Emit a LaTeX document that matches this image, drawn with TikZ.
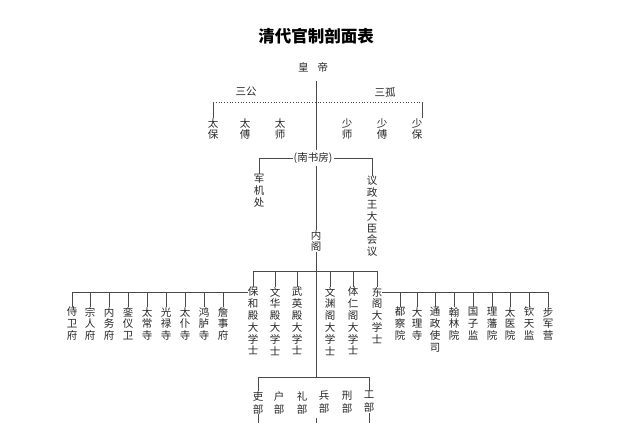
\documentclass[tikz,border=0pt]{standalone}
\usepackage{fontspec}
\newfontfamily\cjk{Noto Sans CJK SC}
\definecolor{ink}{HTML}{262626}
\definecolor{wire}{HTML}{4A4A4A}
\tikzset{
  vt/.style={font=\cjk\fontsize{10.5}{11.8}\selectfont, align=center, inner sep=0pt, anchor=north, text=ink},
  vtm/.style={vt, font=\cjk\fontsize{10.5}{13}\selectfont},
  ht/.style={font=\cjk\fontsize{10.5}{12}\selectfont, inner sep=1pt, text=ink},
  wire/.style={draw=wire, line width=0.75pt},
}
\begin{document}
\begin{tikzpicture}[x=1pt,y=-1pt]
\useasboundingbox (0,0) rectangle (640,423);
\fill[white] (0,0) rectangle (640,423);
% title
\node[font=\cjk\bfseries\fontsize{16.5}{18}\selectfont, text=black, inner sep=0pt] (title) at (316,36) {清代官制剖面表};
% emperor
\node[ht] (hd) at (313,67) {皇\hspace{9pt}帝};
\node[ht] (sangong) at (246,92) {三公};
\node[ht] (sangu) at (385,92) {三孤};
\coordinate (c0) at (316,81);
\coordinate (dl) at (213,102);
\coordinate (dr) at (422,102);
\coordinate (dc) at (316,102);
\draw[wire, dotted] (dl) -- (dr);
% six
\node[vt] (taibao) at (213,118) {太\\保};
\node[vt] (taifu) at (245,118) {太\\傅};
\node[vt] (taishi) at (280,118) {太\\师};
\node[vt] (shaoshi) at (347,118) {少\\师};
\node[vt] (shaofu) at (382,118) {少\\傅};
\node[vt] (shaobao) at (417,118) {少\\保};
\draw[wire] (dl) -- (taibao.north);
\draw[wire] (dr) -- (dr |- shaobao.north);
% south study
\node[ht] (nsf) at (313,158) {(南书房)};
\coordinate (c1) at (316,150);
\draw[wire] (c0) -- (c1);
\coordinate (nl) at (259,158);
\coordinate (nr) at (372,158);
\node[vt] (jjc) at (259,174) {军\\机\\处};
\node[vt] (yzw) at (372,176) {议\\政\\王\\大\\臣\\会\\议};
\draw[wire] (nsf.west) -- (nl) -- (jjc.north);
\draw[wire] (nsf.east) -- (nr) -- (yzw.north);
% grand secretariat
\node[vt] (neige) at (316,230) {内\\阁};
\coordinate (c2) at (316,166);
\draw[wire] (c2) -- (neige.north);
\coordinate (bar1) at (316,271);
\coordinate (bar1l) at (253,271);
\coordinate (bar1r) at (377,271);
\draw[wire] (neige.south) -- (bar1);
\draw[wire] (bar1l) -- (bar1r);
\node[vt] (bh) at (253,287) {保\\和\\殿\\大\\学\\士};
\node[vt] (wh) at (275,287) {文\\华\\殿\\大\\学\\士};
\node[vt] (wy) at (297,287) {武\\英\\殿\\大\\学\\士};
\node[vt] (wyg) at (330,287) {文\\渊\\阁\\大\\学\\士};
\node[vt] (tr) at (353,287) {体\\仁\\阁\\大\\学\\士};
\node[vt] (dg) at (377,287) {东\\阁\\大\\学\\士};
\foreach \n in {bh,wh,wy,wyg,tr,dg} \draw[wire] (\n.north |- bar1) -- (\n.north);
% left offices
\coordinate (lb) at (72,292);
\coordinate (rb) at (548,292);
\draw[wire] (lb) -- (lb -| bh.west);
\draw[wire] (rb) -- (rb -| dg.east);
\node[vt] (l1) at (72,307) {侍\\卫\\府};
\node[vt] (l2) at (90,307) {宗\\人\\府};
\node[vt] (l3) at (109,307) {内\\务\\府};
\node[vt] (l4) at (128,307) {銮\\仪\\卫};
\node[vt] (l5) at (147,307) {太\\常\\寺};
\node[vt] (l6) at (166,307) {光\\禄\\寺};
\node[vt] (l7) at (185,307) {太\\仆\\寺};
\node[vt] (l8) at (204,307) {鸿\\胪\\寺};
\node[vt] (l9) at (223,307) {詹\\事\\府};
\foreach \n in {l1,l2,l3,l4,l5,l6,l7,l8,l9} \draw[wire] (\n.north |- lb) -- (\n.north);
% right offices
\node[vt] (r1) at (400,307) {都\\察\\院};
\node[vt] (r2) at (417,307) {大\\理\\寺};
\node[vt] (r3) at (435,307) {通\\政\\使\\司};
\node[vt] (r4) at (454,307) {翰\\林\\院};
\node[vt] (r5) at (473,307) {国\\子\\监};
\node[vt] (r6) at (492,307) {理\\藩\\院};
\node[vt] (r7) at (510,307) {太\\医\\院};
\node[vt] (r8) at (529,307) {钦\\天\\监};
\node[vt] (r9) at (548,307) {步\\军\\营};
\foreach \n in {r1,r2,r3,r4,r5,r6,r7,r8,r9} \draw[wire] (\n.north |- rb) -- (\n.north);
% six ministries
\coordinate (bar2) at (316,377);
\draw[wire] (bar1) -- (bar2);
\node[vtm] (m1) at (258,391) {吏\\部};
\node[vtm] (m2) at (279,391) {户\\部};
\node[vtm] (m3) at (302,391) {礼\\部};
\node[vtm] (m4) at (324,391) {兵\\部};
\node[vtm] (m5) at (347,391) {刑\\部};
\node[vtm] (m6) at (369,391) {工\\部};
\draw[wire] (m1.north) -- (m1.north |- bar2) -- (m6.north |- bar2) -- (m6.north);
\coordinate (bot) at (316,423);
\coordinate (botc) at (316,418);
\draw[wire] (m1.south) -- (m1.south |- bot);
\draw[wire] (m6.south) -- (m6.south |- bot);
\draw[wire] (botc) -- (bot);
\end{tikzpicture}
\end{document}
